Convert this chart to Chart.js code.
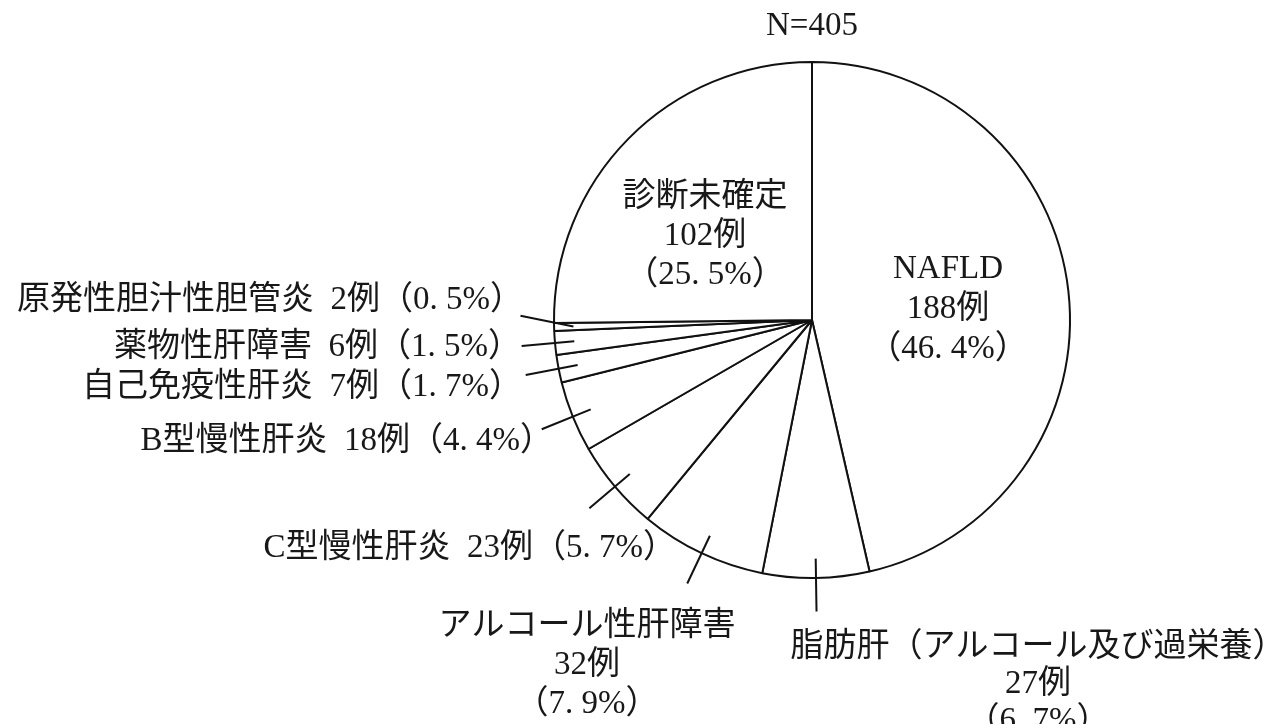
<!DOCTYPE html>
<html lang="ja">
<head>
<meta charset="utf-8">
<title>肝疾患の内訳</title>
<script src="https://cdn.jsdelivr.net/npm/chart.js@4.4.1/dist/chart.umd.min.js"></script>
<style>
  html, body { margin: 0; padding: 0; background: #ffffff; }
  #wrap { position: relative; width: 1277px; height: 724px; }
</style>
</head>
<body>
<div id="wrap"><canvas id="pie" width="1277" height="724"></canvas></div>
<script>
// ---- data ----
const categories = [
  'NAFLD',
  '脂肪肝（アルコール及び過栄養）',
  'アルコール性肝障害',
  'C型慢性肝炎',
  'B型慢性肝炎',
  '自己免疫性肝炎',
  '薬物性肝障害',
  '原発性胆汁性胆管炎',
  '診断未確定'
];
const cases = [188, 27, 32, 23, 18, 7, 6, 2, 102];
const percentLabels = ['46.4%', '6,7%', '7.9%', '5.7%', '4.4%', '1.7%', '1.5%', '0.5%', '25.5%'];
const totalLabel = 'N=405';

// ---- label layout (offsets from the pie centre, px) ----
// mode 'stack': name / count / percent on three lines
// mode 'line' : everything on one line
const labelLayout = [
  { mode: 'stack', dx: 136,  dy: -11, gap: 40, align: 'center', leader: false },
  { mode: 'stack', dx: 226,  dy: 364, gap: 37, align: 'center', leader: true },
  { mode: 'stack', dx: -225, dy: 345, gap: 39, align: 'center', leader: true },
  { mode: 'line',  dx: -136, dy: 228, align: 'right', leader: true },
  { mode: 'line',  dx: -259, dy: 121, align: 'right', leader: true },
  { mode: 'line',  dx: -290, dy: 67,  align: 'right', leader: true },
  { mode: 'line',  dx: -291, dy: 27,  align: 'right', leader: true },
  { mode: 'line',  dx: -289, dy: -20, align: 'right', leader: true, outerShift: 2.4 },
  { mode: 'stack', dx: -107, dy: -84, gap: 39, align: 'center', leader: false }
];

const FONT = "'Liberation Serif', 'Noto Sans CJK JP', serif";
const INK = '#111111';
const LEADER_IN = 0.925;   // leader start, fraction of radius
const LEADER_OUT = 1.13;   // leader end, fraction of radius

// decimal marks are set with a quarter-em space after them, as in the printed figures
function setPercent(s) {
  return s.replace(/([.,])/g, '$1\u2005');
}

function labelLines(i) {
  const count = cases[i] + '例';
  const pct = '（' + setPercent(percentLabels[i]) + '）';
  if (labelLayout[i].mode === 'stack') return [categories[i], count, pct];
  return [categories[i] + '\u2002' + count + pct];
}

const sliceLabels = {
  id: 'sliceLabels',
  afterDatasetsDraw(chart) {
    const ctx = chart.ctx;
    const arcs = chart.getDatasetMeta(0).data;
    let cx = 0, cy = 0, radius = 0;
    ctx.save();
    ctx.fillStyle = '#181818';
    ctx.strokeStyle = INK;
    ctx.lineWidth = 2;
    ctx.lineCap = 'butt';
    ctx.font = '33px ' + FONT;
    ctx.textBaseline = 'middle';
    arcs.forEach((arc, i) => {
      const p = arc.getProps(['x', 'y', 'startAngle', 'endAngle', 'outerRadius'], true);
      cx = p.x; cy = p.y; radius = p.outerRadius;
      const spec = labelLayout[i];
      const mid = (p.startAngle + p.endAngle) / 2;
      if (spec.leader) {
        const a2 = mid + (spec.outerShift || 0) * Math.PI / 180;
        ctx.beginPath();
        ctx.moveTo(p.x + p.outerRadius * LEADER_IN * Math.cos(mid), p.y + p.outerRadius * LEADER_IN * Math.sin(mid));
        ctx.lineTo(p.x + p.outerRadius * LEADER_OUT * Math.cos(a2), p.y + p.outerRadius * LEADER_OUT * Math.sin(a2));
        ctx.stroke();
      }
      const lines = labelLines(i);
      ctx.textAlign = spec.align;
      lines.forEach((t, k) => {
        const off = (k - (lines.length - 1) / 2) * (spec.gap || 0);
        ctx.fillText(t, p.x + spec.dx, p.y + spec.dy + off);
      });
    });
    ctx.textAlign = 'center';
    ctx.fillText(totalLabel, cx, cy - radius - 36);
    ctx.restore();
  }
};

new Chart(document.getElementById('pie'), {
  type: 'pie',
  data: {
    labels: categories,
    datasets: [{
      data: cases,
      backgroundColor: '#ffffff',
      borderColor: INK,
      borderWidth: 2,
      hoverOffset: 0
    }]
  },
  options: {
    responsive: false,
    animation: false,
    rotation: 0,
    layout: { padding: { top: 61, bottom: 145, left: 553, right: 206 } },
    plugins: {
      legend: { display: false },
      tooltip: { enabled: false },
      title: { display: false }
    },
    events: []
  },
  plugins: [sliceLabels]
});
</script>
</body>
</html>
